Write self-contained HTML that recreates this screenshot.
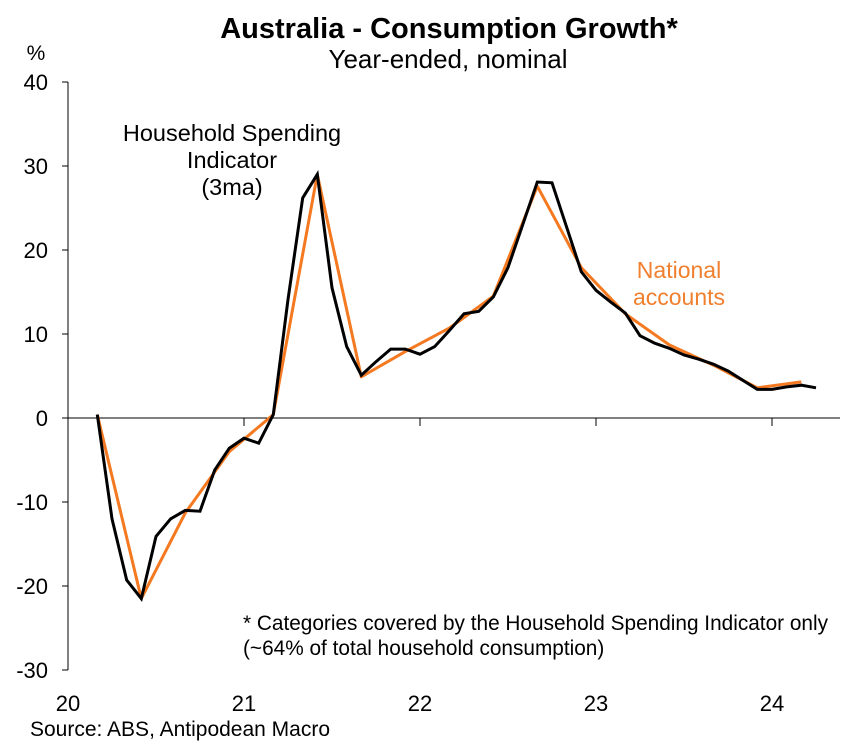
<!DOCTYPE html>
<html><head><meta charset="utf-8"><style>
body{margin:0;background:#fff;}
svg text{font-family:"Liberation Sans",Arial,sans-serif;}
</style></head><body>
<svg width="851" height="746" xmlns="http://www.w3.org/2000/svg">
<text x="449" y="38" text-anchor="middle" font-size="29" font-weight="bold">Australia - Consumption Growth*</text>
<text x="448" y="68" text-anchor="middle" font-size="26">Year-ended, nominal</text>
<text x="36" y="60" text-anchor="middle" font-size="21">%</text>
<g id="axes"></g>
<g id="series"></g>
<text font-size="23.5" text-anchor="middle"><tspan x="232" y="141">Household Spending</tspan><tspan x="232" y="168">Indicator</tspan><tspan x="232" y="195">(3ma)</tspan></text>
<text font-size="23" fill="#f07f2e" text-anchor="middle"><tspan x="679" y="278">National</tspan><tspan x="679" y="305">accounts</tspan></text>
<text font-size="20.8"><tspan x="243" y="630">* Categories covered by the Household Spending Indicator only</tspan><tspan x="243" y="655">(~64% of total household consumption)</tspan></text>
<text x="30" y="736" font-size="21">Source: ABS, Antipodean Macro</text>
</svg>
<script>
const yTicks=[40,30,20,10,0,-10,-20,-30];
const xYears=["20","21","22","23","24"];
const hsiMonths=[2,3,4,5,6,7,8,9,10,11,12,13,14,15,16,17,18,19,20,21,22,23,24,25,26,27,28,29,30,31,32,33,34,35,36,37,38,39,40,41,42,43,44,45,46,47,48,49,50,51];
const hsiValues=[0.4,-12.0,-19.3,-21.5,-14.1,-12.0,-11.0,-11.1,-6.2,-3.6,-2.4,-3.0,0.4,14.1,26.2,29.0,15.5,8.5,5.1,6.7,8.2,8.2,7.6,8.5,10.4,12.4,12.7,14.4,17.9,23.0,28.1,28.0,22.7,17.4,15.2,13.8,12.5,9.8,8.9,8.3,7.5,7.0,6.4,5.6,4.5,3.4,3.4,3.7,3.9,3.6];
const naMonths=[2,5,8,11,14,17,20,23,26,29,32,35,38,41,44,47,50];
const naValues=[0.4,-21.5,-11.3,-4.0,0.4,29.0,4.9,7.9,10.7,14.5,27.6,17.9,12.4,8.7,6.3,3.6,4.3];
const NS="http://www.w3.org/2000/svg";
const X0=68,MW=176/12,Y0=418,YS=8.4;
const xs=m=>X0+m*MW, ys=v=>Y0-v*YS;
const axes=document.getElementById('axes'), ser=document.getElementById('series');
function mk(t,a,p){const e=document.createElementNS(NS,t);for(const k in a)e.setAttribute(k,a[k]);p.appendChild(e);return e;}
let l=mk('line',{x1:X0,y1:ys(40),x2:X0,y2:ys(-30),stroke:'#000','stroke-width':1},axes);


l=mk('line',{x1:X0,y1:Y0,x2:840,y2:Y0,stroke:'#000','stroke-width':1},axes);


yTicks.forEach(v=>{
 const t=mk('line',{x1:X0-6,y1:ys(v),x2:X0,y2:ys(v),stroke:'#000'},axes);
 
 
 const tx=mk('text',{x:48,y:ys(v)+8,'text-anchor':'end','font-size':22},axes);
 tx.textContent=v;
 
 
});
xYears.forEach((y,i)=>{
 const x=xs(i*12);
 if(i>0){const t=mk('line',{x1:x,y1:Y0,x2:x,y2:Y0+8,stroke:'#000'},axes);
 
 }
 const tx=mk('text',{x:x,y:711,'text-anchor':'middle','font-size':22},axes);
 tx.textContent=y;
 
 
});
const pts=(ms,vs)=>ms.map((m,i)=>xs(m).toFixed(1)+','+ys(vs[i]).toFixed(1)).join(' ');
const na=mk('polyline',{points:pts(naMonths,naValues),fill:'none',stroke:'#f47920','stroke-width':3,'stroke-linejoin':'round'},ser);


const h=mk('polyline',{points:pts(hsiMonths,hsiValues),fill:'none',stroke:'#000','stroke-width':3,'stroke-linejoin':'miter'},ser);


</script>
</body></html>
